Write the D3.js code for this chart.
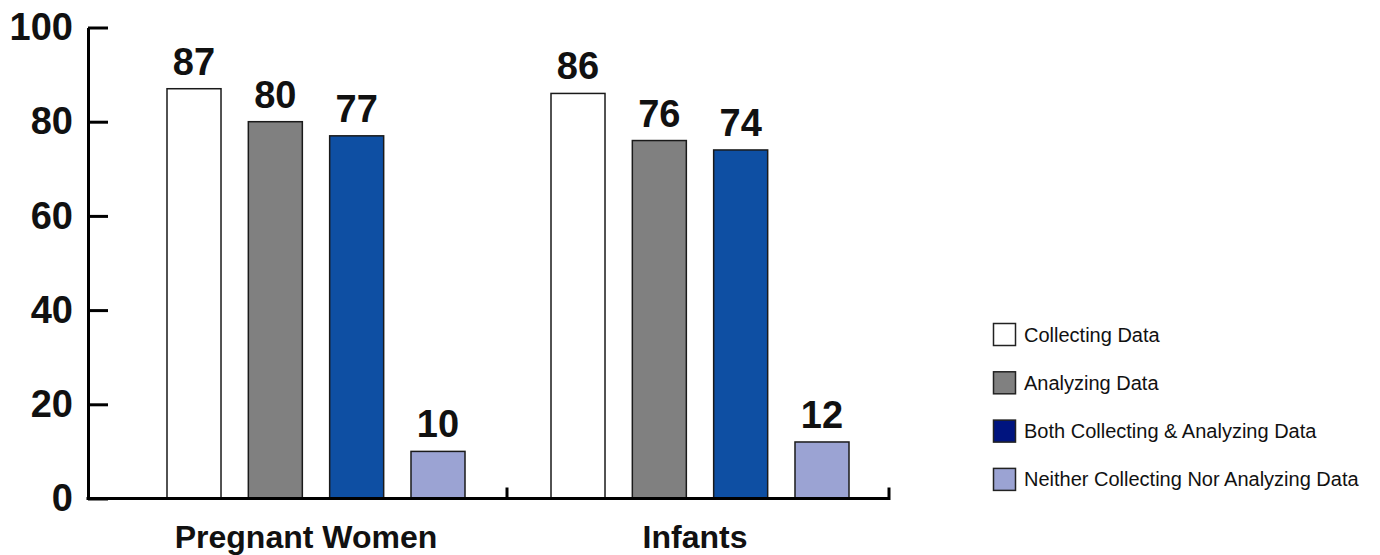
<!DOCTYPE html>
<html>
<head>
<meta charset="utf-8">
<script src="https://cdn.jsdelivr.net/npm/d3@7/dist/d3.min.js"></script>
<style>
  html, body { margin: 0; padding: 0; background: #ffffff; }
  svg { display: block; font-family: "Liberation Sans", Arial, Helvetica, sans-serif; }
</style>
</head>
<body>
<svg id="chart" width="1380" height="555"></svg>
<script>
// Population groups along the x axis
const groups = ["Pregnant Women", "Infants"];

// Data activity categories (one bar per category in each group)
const series = [
  "Collecting Data",
  "Analyzing Data",
  "Both Collecting & Analyzing Data",
  "Neither Collecting Nor Analyzing Data"
];

// Percent of programs, per category, for each group
const pregnantWomen = [87, 80, 77, 10];
const infants = [86, 76, 74, 12];

// Y axis tick values
const yTicks = [0, 20, 40, 60, 80, 100];

// Bar fills and matching legend swatch fills
const barColors = ["#ffffff", "#808080", "#0e4fa3", "#9ba3d3"];
const swatchColors = ["#ffffff", "#808080", "#00147f", "#9ba3d3"];

const values = { "Pregnant Women": pregnantWomen, "Infants": infants };
const rows = groups.flatMap(g => series.map((s, i) => ({ group: g, series: s, i, value: values[g][i] })));

const svg = d3.select("#chart");

const axisX = 88, axisEnd = 889, separatorX = 507;

const y = d3.scaleLinear().domain([0, 100]).range([498.5, 27.5]);

const x0 = d3.scaleBand().domain(groups).range([123, 891]).paddingInner(0).paddingOuter(0);
const x1 = d3.scaleBand().domain(series).range([44, 342]).paddingInner(0.336).paddingOuter(0);

// Bars
const bars = svg.append("g");
bars.selectAll("rect")
  .data(rows)
  .join("rect")
  .attr("x", d => x0(d.group) + x1(d.series))
  .attr("y", d => y(d.value))
  .attr("width", x1.bandwidth())
  .attr("height", d => y(0) - y(d.value))
  .attr("fill", d => barColors[d.i])
  .attr("stroke", "#1a1a1a")
  .attr("stroke-width", 1.5);

// Value labels above bars
svg.append("g").selectAll("text")
  .data(rows)
  .join("text")
  .attr("x", d => x0(d.group) + x1(d.series) + x1.bandwidth() / 2)
  .attr("y", d => y(d.value) - 14)
  .attr("text-anchor", "middle")
  .attr("font-size", 38)
  .attr("font-weight", "bold")
  .attr("fill", "#111")
  .text(d => d.value);

// Y axis with inward ticks
const yAxis = d3.axisLeft(y).tickValues(yTicks).tickSizeInner(-20).tickSizeOuter(0).tickPadding(15);
const gy = svg.append("g").attr("transform", `translate(${axisX},0)`).call(yAxis);
gy.select(".domain").attr("stroke", "#000").attr("stroke-width", 3);
gy.selectAll(".tick line").attr("stroke", "#000").attr("stroke-width", 3);
gy.selectAll(".tick text")
  .attr("font-size", 38)
  .attr("font-weight", "bold")
  .attr("font-family", "'Liberation Sans', Arial, sans-serif")
  .attr("fill", "#111");

// Baseline and group separator ticks
const base = svg.append("g").attr("stroke", "#000").attr("stroke-width", 3).attr("fill", "none");
base.append("path").attr("d", `M${axisX - 1.5},${y(0)}H${axisEnd}`);
base.append("path").attr("d", `M${separatorX},${y(0)}V${y(0) - 11}`);
base.append("path").attr("d", `M${axisEnd},${y(0) + 1.5}V${y(0) - 11}`);

// Group labels
svg.append("g").selectAll("text")
  .data(groups)
  .join("text")
  .attr("x", (g, i) => x0(g) + x0.bandwidth() / 2 - (i === 0 ? 9 : 4))
  .attr("y", 548)
  .attr("text-anchor", "middle")
  .attr("font-size", 32)
  .attr("font-weight", "bold")
  .attr("fill", "#111")
  .text(g => g);

// Legend
const legend = svg.append("g").attr("transform", "translate(993.5,323.5)");
const item = legend.selectAll("g")
  .data(series)
  .join("g")
  .attr("transform", (d, i) => `translate(0,${i * 48.3})`);
item.append("rect")
  .attr("width", 22)
  .attr("height", 22)
  .attr("fill", (d, i) => swatchColors[i])
  .attr("stroke", "#222")
  .attr("stroke-width", 1.5);
item.append("text")
  .attr("x", 30.5)
  .attr("y", 18)
  .attr("font-size", 20)
  .attr("fill", "#111")
  .text(d => d);
</script>
</body>
</html>
